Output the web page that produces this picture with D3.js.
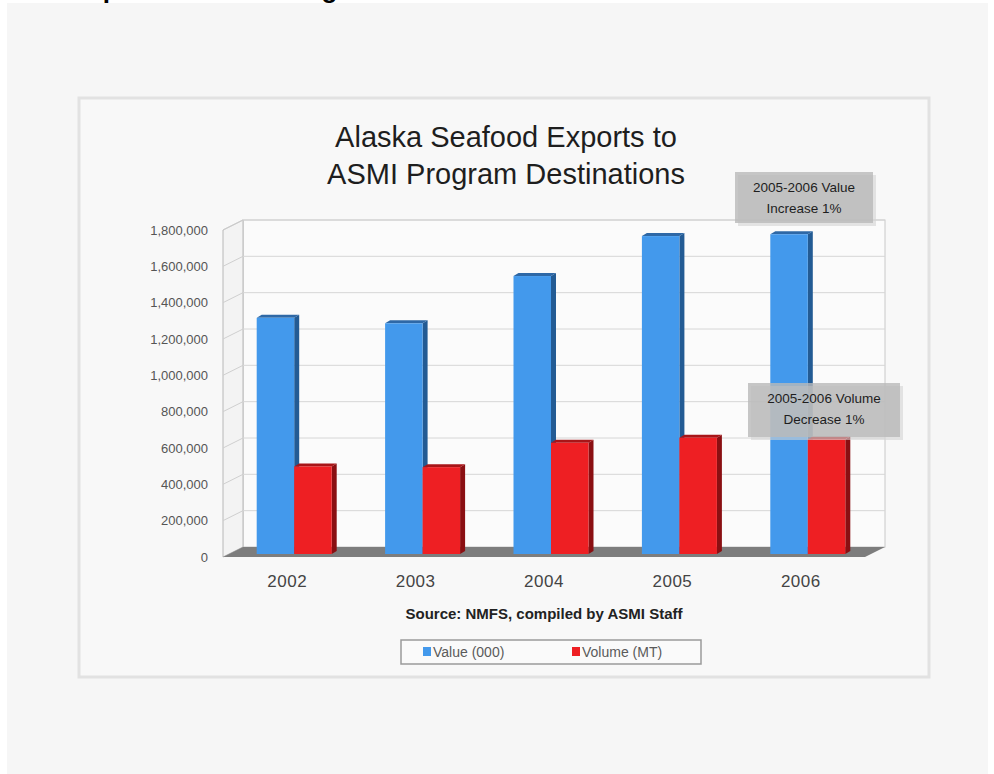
<!DOCTYPE html>
<html>
<head>
<meta charset="utf-8">
<script src="https://cdn.jsdelivr.net/npm/d3@7"></script>
<style>
  body { margin: 0; background: #ffffff; }
  svg { display: block; }
</style>
</head>
<body>
<div id="chart_div"></div>
<script>
//chart data
var years = ["2002", "2003", "2004", "2005", "2006"];
var valueData = [1300000, 1270000, 1530000, 1750000, 1760000];   //Value (000)
var volumeData = [482000, 478000, 612000, 640000, 632000];       //Volume (MT)
var yTicks = [0, 200000, 400000, 600000, 800000, 1000000, 1200000, 1400000, 1600000, 1800000];
var seriesNames = ["Value (000)", "Volume (MT)"];
var notes = [["2005-2006 Value", "Increase 1%"], ["2005-2006 Volume", "Decrease 1%"]];

var width = 994;
var height = 774;

var svg = d3.select("#chart_div").append("svg")
  .attr("width", width)
  .attr("height", height);

//page background
svg.append("rect")
  .attr("x", 7).attr("y", 3)
  .attr("width", 981).attr("height", 771)
  .attr("fill", "#f6f6f6");

//page heading, only the bottom of it shows
svg.append("text")
  .attr("x", 71)
  .attr("y", -2.5)
  .style("font-family", "Liberation Sans, Arial, sans-serif")
  .style("font-weight", "bold")
  .style("font-size", "26px")
  .style("fill", "#000")
  .text("Exports to ASMI Program Destinations");

//picture frame
svg.append("rect")
  .attr("x", 79).attr("y", 98)
  .attr("width", 850).attr("height", 579)
  .attr("fill", "#f8f8f8")
  .attr("stroke", "#e2e2e2")
  .attr("stroke-width", 3);

/*----------------------
TITLE
----------------------*/
var titleLines = ["Alaska Seafood Exports to", "ASMI Program Destinations"];
svg.selectAll(".title")
  .data(titleLines)
  .enter().append("text")
  .attr("class", "title")
  .attr("x", 506)
  .attr("y", function (d, i) { return 147 + i * 37; })
  .attr("text-anchor", "middle")
  .style("font-family", "Liberation Sans, Arial, sans-serif")
  .style("font-size", "29px")
  .style("fill", "#1e1e1e")
  .text(function (d) { return d; });

/*----------------------
SCALES
----------------------*/
var x = d3.scaleBand().domain(years).range([223, 865]);
var y = d3.scaleLinear().domain([0, 1800000]).range([557, 230]);

//depth of the 3d box
var DX = 20;
var DY = -10;

//bars sit a bit behind the front plane
var BX = 7;
var BY = -3;
var groupWidth = 75;
var xs = d3.scaleBand().domain(seriesNames).range([0, groupWidth]);

/*----------------------
WALLS AND GRID
----------------------*/
var y0 = y(0);
var yTop = y(1800000);
var xLeft = x.range()[0];
var xRight = x.range()[1];

//back wall
svg.append("rect")
  .attr("x", xLeft + DX)
  .attr("y", yTop + DY)
  .attr("width", xRight - xLeft)
  .attr("height", y0 - yTop)
  .attr("fill", "#fbfbfb")
  .attr("stroke", "#c8c8c8")
  .attr("stroke-width", 1);

//side wall
svg.append("path")
  .attr("d", "M" + xLeft + "," + y0 + "L" + xLeft + "," + yTop +
    "L" + (xLeft + DX) + "," + (yTop + DY) + "L" + (xLeft + DX) + "," + (y0 + DY) + "Z")
  .attr("fill", "#f3f3f3")
  .attr("stroke", "#b8b8b8")
  .attr("stroke-width", 1);

//grid lines on back and side wall
var grid = svg.append("g");
yTicks.forEach(function (t) {
  if (t == 0) return;
  grid.append("line")
    .attr("x1", xLeft + DX).attr("x2", xRight + DX)
    .attr("y1", y(t) + DY).attr("y2", y(t) + DY)
    .attr("stroke", "#d6d6d6");
  grid.append("line")
    .attr("x1", xLeft).attr("x2", xLeft + DX)
    .attr("y1", y(t)).attr("y2", y(t) + DY)
    .attr("stroke", "#cfcfcf");
});

//floor
svg.append("path")
  .attr("d", "M" + xLeft + "," + y0 + "L" + (xLeft + DX) + "," + (y0 + DY) +
    "L" + (xRight + DX) + "," + (y0 + DY) + "L" + xRight + "," + y0 + "Z")
  .attr("fill", "#7d7d7d");

//y axis labels
svg.append("g")
  .attr("transform", "translate(" + (xLeft - 15) + ",0)")
  .call(d3.axisLeft(y).tickValues(yTicks).tickSize(0).tickPadding(0)
    .tickFormat(function (d) { return d3.format(",")(d); }))
  .call(function (g) { g.select(".domain").remove(); })
  .selectAll("text")
  .style("font-family", "Liberation Sans, Arial, sans-serif")
  .style("font-size", "13px")
  .style("fill", "#555");

/*----------------------
BARS
----------------------*/
var SIDE = 5;
var TOPDY = -3;
var colors = {
  "Value (000)": { front: "#4399ec", side: "#235b94", top: "#2e68a6" },
  "Volume (MT)": { front: "#ee1f23", side: "#8a0f12", top: "#a81518" }
};

function drawBar(xPos, value, name) {
  var w = xs.bandwidth();
  var yb = y0 + BY;
  var yt = y(value) + BY;
  var c = colors[name];

  //side face
  svg.append("path")
    .attr("d", "M" + (xPos + w) + "," + yb + "L" + (xPos + w) + "," + yt +
      "L" + (xPos + w + SIDE) + "," + (yt + TOPDY) + "L" + (xPos + w + SIDE) + "," + (yb + TOPDY) + "Z")
    .attr("fill", c.side);

  //top face
  svg.append("path")
    .attr("d", "M" + xPos + "," + yt + "L" + (xPos + SIDE) + "," + (yt + TOPDY) +
      "L" + (xPos + w + SIDE) + "," + (yt + TOPDY) + "L" + (xPos + w) + "," + yt + "Z")
    .attr("fill", c.top);

  //front face
  svg.append("rect")
    .attr("x", xPos)
    .attr("y", yt)
    .attr("width", w)
    .attr("height", yb - yt)
    .attr("fill", c.front);
}

for (let index = 0; index < years.length; index++) {
  var gx = x(years[index]) + (x.bandwidth() - groupWidth) / 2 + BX;
  drawBar(gx + xs(seriesNames[0]), valueData[index], seriesNames[0]);
  drawBar(gx + xs(seriesNames[1]), volumeData[index], seriesNames[1]);
}

//year labels
svg.selectAll(".year")
  .data(years)
  .enter().append("text")
  .attr("class", "year")
  .attr("x", function (d) { return x(d) + x.bandwidth() / 2; })
  .attr("y", 587)
  .attr("text-anchor", "middle")
  .style("font-family", "Liberation Sans, Arial, sans-serif")
  .style("font-size", "17px")
  .style("letter-spacing", "0.5px")
  .style("fill", "#444")
  .text(function (d) { return d; });

//source line
svg.append("text")
  .attr("x", 544)
  .attr("y", 619)
  .attr("text-anchor", "middle")
  .style("font-family", "Liberation Sans, Arial, sans-serif")
  .style("font-weight", "bold")
  .style("font-size", "15px")
  .style("fill", "#222")
  .text("Source: NMFS, compiled by ASMI Staff");

/*----------------------
LEGEND
----------------------*/
var legend = svg.append("g");
legend.append("rect")
  .attr("x", 401).attr("y", 640)
  .attr("width", 300).attr("height", 24)
  .attr("fill", "#fafafa")
  .attr("stroke", "#9a9a9a")
  .attr("stroke-width", 1.5);

var legendX = [423, 572];
seriesNames.forEach(function (name, i) {
  legend.append("rect")
    .attr("x", legendX[i]).attr("y", 647)
    .attr("width", 8).attr("height", 9)
    .attr("fill", colors[name].front);
  legend.append("text")
    .attr("x", legendX[i] + 10)
    .attr("y", 657)
    .style("font-family", "Liberation Sans, Arial, sans-serif")
    .style("font-size", "14px")
    .style("fill", "#5a5a5a")
    .text(name);
});

/*----------------------
ANNOTATIONS
----------------------*/
var noteBoxes = [
  { x: 735, y: 172, w: 138, h: 51 },
  { x: 748, y: 383, w: 152, h: 54 }
];
notes.forEach(function (lines, i) {
  var b = noteBoxes[i];
  svg.append("rect")
    .attr("x", b.x + 3).attr("y", b.y + 3)
    .attr("width", b.w).attr("height", b.h)
    .attr("fill", "#d4d4d4")
    .attr("opacity", 0.6);
  svg.append("rect")
    .attr("x", b.x).attr("y", b.y)
    .attr("width", b.w).attr("height", b.h)
    .attr("fill", "#b9b9b9")
    .attr("opacity", 0.8);
  lines.forEach(function (t, j) {
    svg.append("text")
      .attr("x", b.x + b.w / 2)
      .attr("y", b.y + 20 + j * 21)
      .attr("text-anchor", "middle")
      .style("font-family", "Liberation Sans, Arial, sans-serif")
      .style("font-size", "13.5px")
      .style("fill", "#1e1e1e")
      .text(t);
  });
});
</script>
</body>
</html>
